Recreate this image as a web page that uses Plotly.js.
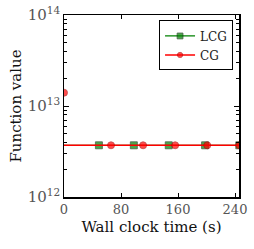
<!DOCTYPE html>
<html>
<head>
<meta charset="utf-8">
<script src="https://cdn.plot.ly/plotly-3.0.1.min.js"></script>
<style>html,body{margin:0;padding:0;background:#fff;}#chart{width:254px;height:249px;}</style>
</head>
<body>
<div id="chart"></div>
<script>
// Data (null = break where the drop is hidden by the axis)
const lcgTime  = [0, 49, 98, 147, 198, 246];
const lcgValue = [3.7e12, 3.7e12, 3.7e12, 3.7e12, 3.7e12, 3.7e12];
const lcgMarked = [false, true, true, true, true, true];

const cgTime  = [0, null, 0, 66, 111, 156, 201, 246];
const cgValue = [1.4e13, null, 3.7e12, 3.7e12, 3.7e12, 3.7e12, 3.7e12, 3.7e12];
const cgMarked = [true, false, false, true, true, true, true, true];

const xTicks = [0, 80, 160, 240];

const font = 'DejaVu Serif';

const traces = [
  {
    x: lcgTime, y: lcgValue, name: 'LCG', type: 'scatter', mode: 'lines+markers',
    line: {color: '#008000', width: 1.3},
    marker: {symbol: 'square', color: '#008000', size: lcgMarked.map(m => m ? 7 : 0),
             line: {color: '#002200', width: 0.8}}
  },
  {
    x: cgTime, y: cgValue, name: 'CG', type: 'scatter', mode: 'lines+markers',
    connectgaps: false,
    line: {color: '#ff0000', width: 1.5},
    marker: {symbol: 'circle', color: '#ff0000', size: cgMarked.map(m => m ? 7 : 0),
             line: {color: '#aa0000', width: 0.8}}
  }
];

const layout = {
  width: 254, height: 249,
  margin: {l: 64, r: 15, t: 15, b: 52},
  paper_bgcolor: '#fff', plot_bgcolor: '#fff',
  font: {family: font, color: '#222', size: 12},
  showlegend: true,
  legend: {
    x: 0.966, xanchor: 'right', y: 0.97, yanchor: 'top',
    bordercolor: '#000', borderwidth: 1, bgcolor: '#fff',
    font: {family: font, size: 12, color: '#222'},
    tracegroupgap: 0, itemwidth: 30
  },
  xaxis: {
    range: [0, 245.6], tickvals: xTicks, ticktext: xTicks.map(String),
    ticks: 'inside', ticklen: 4, tickcolor: '#000', mirror: 'ticks',
    showline: true, linecolor: '#000', linewidth: 1.5, showgrid: false, zeroline: false,
    layer: 'above traces',
    tickfont: {family: font, size: 13, color: '#555'},
    title: {text: 'Wall clock time (s)', font: {family: font, size: 15, color: '#111'}, standoff: 5}
  },
  yaxis: {
    type: 'log', range: [12, 14], dtick: 1, exponentformat: 'power',
    ticks: 'inside', ticklen: 5, tickcolor: '#000', mirror: 'ticks',
    showline: true, linecolor: '#000', linewidth: 1.5, showgrid: false, zeroline: false,
    layer: 'above traces',
    minor: {ticks: 'inside', ticklen: 3, tickcolor: '#000', dtick: 'D1', showgrid: false},
    tickfont: {family: font, size: 12, color: '#555'},
    title: {text: 'Function value', font: {family: font, size: 15, color: '#111'}, standoff: 2}
  }
};

Plotly.newPlot('chart', traces, layout, {displayModeBar: false, staticPlot: true});
</script>
</body>
</html>
